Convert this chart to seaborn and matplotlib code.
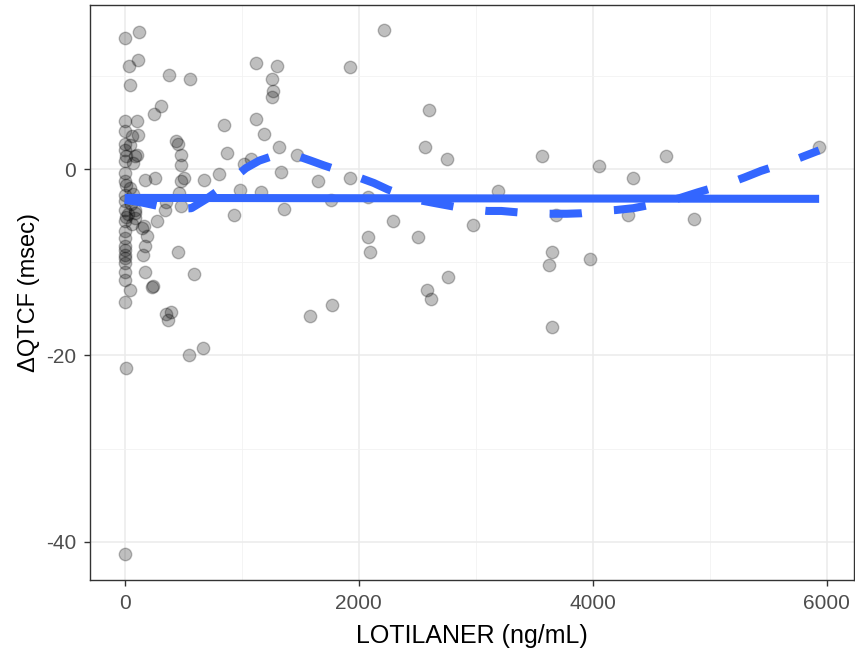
import numpy as np
import pandas as pd
import matplotlib
matplotlib.use("Agg")
import matplotlib.pyplot as plt
import seaborn as sns
from matplotlib.ticker import MultipleLocator

conc = [0, 119, 34, 110, 42, 382, 560, 246, 314, 0, 102, 5, 110, 0, 442, 459, 484, 102,
        0, 8, 0, 3, 0, 10, 0, 5, 0, 12, 0, 3, 0, 6, 0, 2, 0, 4, 0, 2, 42, 0, 8, 0,
        85, 85, 85, 85, 170, 255, 144, 161, 187, 170, 153, 170, 238, 272, 340, 357,
        484, 484, 484, 510, 459, 594, 679, 467, 229, 357, 399, 374, 552, 671,
        1121, 1299, 1257, 1265, 1257, 1121, 849, 1189, 1316, 875, 1469, 1019, 1079,
        807, 985, 1164, 934, 1333, 1359, 2217, 1928, 2599, 2565, 2752, 1656, 1767,
        1928, 2081, 2293, 2081, 2098, 2505, 2760, 2582, 2616, 1775, 1580,
        3567, 4051, 4348, 4629, 3193, 2981, 3686, 4306, 4866, 3652, 3626, 3975,
        3652, 5937, 59, 42, 68, 42, 51, 25, 59, 68]
dqtcf = [14.1, 14.7, 11.1, 11.7, 9.0, 10.1, 9.7, 5.9, 6.8, 5.1, 5.1, 4.1, 3.7, 2.7, 3.0,
         2.7, 1.5, 1.5, 2.0, 1.4, 0.9, -0.4, -1.3, -1.7, -2.8, -3.4, -4.4, -5.1, -5.6,
         -6.6, -7.4, -8.3, -8.7, -9.2, -9.6, -10.1, -11.0, -11.9, -13.0, -14.3, -21.3,
         -41.3, 1.4, -4.4, -4.7, -5.3, -1.2, -1.0, -6.3, -6.1, -7.2, -8.3, -9.2, -11.0,
         -12.5, -5.6, -4.4, -3.5, -4.0, -1.3, 0.4, -1.0, -8.9, -11.3, -1.2, -2.6, -12.7,
         -15.6, -15.3, -16.2, -20.0, -19.2, 11.4, 11.1, 9.7, 8.4, 7.7, 5.4, 4.7, 3.8,
         2.4, 1.7, 1.5, 0.5, 1.1, -0.5, -2.3, -2.5, -4.9, -0.3, -4.3, 14.9, 11.0, 6.3,
         2.4, 1.1, -1.3, -3.3, -1.0, -3.0, -5.6, -7.3, -8.9, -7.3, -11.6, -13.0, -14.0,
         -14.6, -15.8, 1.4, 0.3, -1.0, 1.4, -2.4, -6.0, -4.9, -4.9, -5.4, -8.9, -10.3,
         -9.7, -17.0, 2.4, 3.5, 2.6, 0.6, -2.0, -3.7, -4.8, -5.9, -2.7]

# linear model fit (solid) and loess smooth (dashed)
lm_x = [0, 5937]
lm_y = [-3.1, -3.2]
loess_x = [0, 150, 300, 450, 570, 700, 800, 900, 1036, 1150, 1290, 1430, 1590, 1700,
           1843, 2000, 2130, 2250, 2380, 2500, 2670, 2800, 2930, 3100, 3220, 3500,
           3780, 3900, 4070, 4200, 4350, 4630, 4750, 4900, 5170, 5300, 5440, 5710, 5937]
loess_y = [-3.3, -3.6, -4.0, -4.3, -4.2, -3.2, -2.3, -1.3, 0.1, 0.9, 1.5, 1.6, 0.9, 0.4,
           -0.2, -0.9, -1.5, -2.2, -2.8, -3.3, -3.7, -4.0, -4.3, -4.5, -4.5, -4.8,
           -4.8, -4.75, -4.5, -4.4, -4.2, -3.5, -3.1, -2.5, -1.5, -0.9, -0.2, 0.9, 2.0]

df = pd.DataFrame({"conc": conc, "dqtcf": dqtcf})
lm_df = pd.DataFrame({"conc": lm_x, "dqtcf": lm_y})
lo_df = pd.DataFrame({"conc": loess_x, "dqtcf": loess_y})

sns.set_theme(style="white")
plt.rcParams["font.family"] = ["Liberation Sans", "DejaVu Sans"]
plt.rcParams["axes.unicode_minus"] = False

fig = plt.figure(figsize=(8.55, 6.52), dpi=100)
ax = fig.add_axes([90 / 855, 1 - 580 / 652, 764 / 855, 575 / 652])

blue = "#3366FF"
sns.scatterplot(data=df, x="conc", y="dqtcf", ax=ax, s=80, color="black",
                alpha=0.25, edgecolor="black", linewidth=1.0, zorder=3)
sns.lineplot(data=lm_df, x="conc", y="dqtcf", ax=ax, color=blue, linewidth=5.8,
             zorder=4, solid_capstyle="butt")
sns.lineplot(data=lo_df, x="conc", y="dqtcf", ax=ax, color=blue, linewidth=5.8,
             zorder=4, dashes=False)
ax.lines[-1].set_dashes([4, 4])
ax.lines[-1].set_dash_capstyle("butt")

ax.set_xlim(-297, 6235)
ax.set_ylim(-44.1, 17.6)
ax.xaxis.set_major_locator(MultipleLocator(2000))
ax.xaxis.set_minor_locator(MultipleLocator(1000))
ax.yaxis.set_major_locator(MultipleLocator(20))
ax.yaxis.set_minor_locator(MultipleLocator(10))
ax.grid(which="major", color="#EBEBEB", linewidth=1.1, zorder=0)
ax.grid(which="minor", color="#F2F2F2", linewidth=0.6, zorder=0)
ax.set_axisbelow(True)
for sp in ax.spines.values():
    sp.set_visible(True)
    sp.set_color("#333333")
    sp.set_linewidth(1.0)
ax.tick_params(axis="both", which="major", length=4, width=1, color="#333333",
               labelsize=15, labelcolor="#4D4D4D", pad=6, bottom=True, left=True)
ax.tick_params(which="minor", length=0)
ax.set_xlabel("LOTILANER (ng/mL)", fontsize=18, color="black", labelpad=8)
ax.set_ylabel("ΔQTCF (msec)", fontsize=17, color="black", labelpad=4)

fig.savefig("out.png", dpi=100)
